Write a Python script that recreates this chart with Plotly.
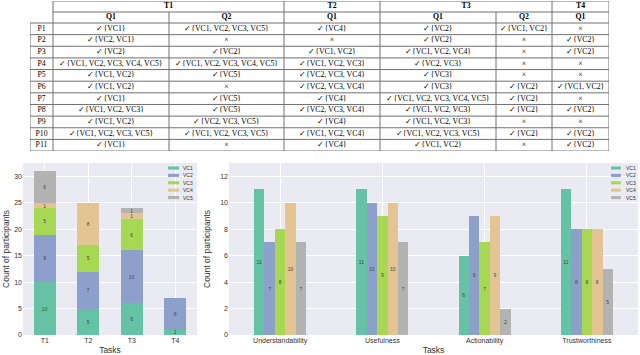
import plotly.graph_objects as go

# ---- table data ----
participants = ["P1", "P2", "P3", "P4", "P5", "P6", "P7", "P8", "P9", "P10", "P11"]
task_headers = ["T1", "T2", "T3", "T4"]
task_spans = [2, 1, 2, 1]
question_headers = ["Q1", "Q2", "Q1", "Q1", "Q2", "Q1"]

t1_q1 = ["✓{VC1}", "✓{VC2, VC1}", "✓{VC2}", "✓{VC1, VC2, VC3, VC4, VC5}", "✓{VC1, VC2}",
         "✓{VC1, VC2}", "✓{VC1}", "✓{VC1, VC2, VC3}", "✓{VC1, VC2}", "✓{VC1, VC2, VC3, VC5}", "✓{VC1}"]
t1_q2 = ["✓{VC1, VC2, VC3, VC5}", "×", "✓{VC2}", "✓{VC1, VC2, VC3, VC4, VC5}", "✓{VC5}",
         "×", "✓{VC5}", "✓{VC5}", "✓{VC2, VC3, VC5}", "✓{VC1, VC2, VC3, VC5}", "×"]
t2_q1 = ["✓{VC4}", "×", "✓{VC1, VC2}", "✓{VC1, VC2, VC3}", "✓{VC2, VC3, VC4}",
         "✓{VC2, VC3, VC4}", "✓{VC4}", "✓{VC2, VC3, VC4}", "✓{VC4}", "✓{VC1, VC2, VC4}", "✓{VC4}"]
t3_q1 = ["✓{VC2}", "✓{VC2}", "✓{VC1, VC2, VC4}", "✓{VC2, VC3}", "✓{VC3}",
         "✓{VC3}", "✓{VC1, VC2, VC3, VC4, VC5}", "✓{VC1, VC2, VC3}", "✓{VC1, VC2, VC3}",
         "✓{VC1, VC2, VC3, VC5}", "✓{VC1, VC2}"]
t3_q2 = ["✓{VC1, VC2}", "×", "×", "×", "×", "✓{VC2}", "✓{VC2}", "✓{VC2}", "×", "✓{VC2}", "×"]
t4_q1 = ["×", "✓{VC2}", "✓{VC2}", "×", "×", "✓{VC1, VC2}", "×", "✓{VC2}", "×", "✓{VC2}", "✓{VC2}"]

# ---- bar chart data ----
series = ["VC1", "VC2", "VC3", "VC4", "VC5"]
colors = ["#66c2a5", "#8da0cb", "#a6d854", "#e5c494", "#b3b3b3"]

tasks = ["T1", "T2", "T3", "T4"]
task_counts = {
    "VC1": [10, 5, 6, 1],
    "VC2": [9, 7, 10, 6],
    "VC3": [5, 5, 6, 0],
    "VC4": [1, 8, 1, 0],
    "VC5": [6, 0, 1, 0],
}

criteria = ["Understandability", "Usefulness", "Actionability", "Trustworthiness"]
criteria_counts = {
    "VC1": [11, 11, 6, 11],
    "VC2": [7, 10, 9, 8],
    "VC3": [8, 9, 7, 8],
    "VC4": [10, 10, 9, 8],
    "VC5": [7, 7, 2, 5],
}

W, H = 640, 355
def px_x(v):
    return v / W
def px_y(v):
    return 1 - v / H

fig = go.Figure()

serif = "Liberation Serif"
sans = "Liberation Sans"
line_col = "#707070"

# ---- table, drawn on its own axes (units = pixels) ----
col_w = [23, 116, 115, 96, 116, 56, 57]
row_h = [11, 11] + [11.64] * 11
col_edges = [0]
for w in col_w:
    col_edges.append(col_edges[-1] + w)
row_edges = [0]
for h in row_h:
    row_edges.append(row_edges[-1] + h)
table_w = col_edges[-1]
table_h = row_edges[-1]

def col_mid(i):
    return (col_edges[i] + col_edges[i + 1]) / 2
def row_mid(j):
    return (row_edges[j] + row_edges[j + 1]) / 2

tx, ty, tt = [], [], []
# merged task header row
c = 1
for name, span in zip(task_headers, task_spans):
    tx.append((col_edges[c] + col_edges[c + span]) / 2)
    ty.append(row_mid(0))
    tt.append("<b>%s</b>" % name)
    c += span
for i, q in enumerate(question_headers):
    tx.append(col_mid(i + 1))
    ty.append(row_mid(1))
    tt.append("<b>%s</b>" % q)
columns = [participants, t1_q1, t1_q2, t2_q1, t3_q1, t3_q2, t4_q1]
for i, col in enumerate(columns):
    for j, v in enumerate(col):
        tx.append(col_mid(i))
        ty.append(row_mid(j + 2))
        tt.append(v)

fig.add_trace(go.Scatter(
    x=tx, y=ty, text=tt, mode="text", hoverinfo="skip", showlegend=False,
    textfont=dict(family=serif, size=7.8, color="black"),
    xaxis="x3", yaxis="y3",
))

# white background for the table area
fig.add_shape(type="rect", xref="x3 domain", yref="y3 domain", x0=0, x1=1, y0=0, y1=1,
              fillcolor="white", line_width=0, layer="below")

def hline(y, x0, x1):
    fig.add_shape(type="line", xref="x3", yref="y3", x0=x0, x1=x1, y0=y, y1=y,
                  line=dict(color=line_col, width=1))
def vline(x, y0, y1):
    fig.add_shape(type="line", xref="x3", yref="y3", x0=x, x1=x, y0=y0, y1=y1,
                  line=dict(color=line_col, width=1))

hline(row_edges[0], col_edges[1], table_w)
hline(row_edges[1], col_edges[1], table_w)
for y in row_edges[2:]:
    hline(y, 0, table_w)
vline(0, row_edges[2], table_h)
# vertical separators: task boundaries span both header rows, question ones only the second
task_bounds = [1]
for span in task_spans:
    task_bounds.append(task_bounds[-1] + span)
for k in range(1, len(col_edges)):
    top = row_edges[0] if k in task_bounds else row_edges[1]
    vline(col_edges[k], top, table_h)

# ---- stacked bars by task ----
for name, col in zip(series, colors):
    vals = task_counts[name]
    fig.add_trace(go.Bar(
        x=tasks, y=vals, name=name, marker_color=col, marker_line_width=0,
        text=[str(v) if v > 0 else "" for v in vals],
        textposition="inside", insidetextanchor="middle", constraintext="none",
        textangle=0, textfont=dict(size=5, color="#444444"),
        showlegend=False, xaxis="x", yaxis="y",
    ))

# ---- grouped bars by criterion ----
for name, col in zip(series, colors):
    vals = criteria_counts[name]
    fig.add_trace(go.Bar(
        x=criteria, y=vals, name=name, marker_color=col, marker_line_width=0,
        offsetgroup=name,
        text=[str(v) for v in vals],
        textposition="inside", insidetextanchor="middle", constraintext="none",
        textangle=0, textfont=dict(size=5, color="#444444"),
        showlegend=False, xaxis="x2", yaxis="y2",
    ))

axis_common = dict(
    showline=False, zeroline=False, showgrid=True, gridcolor="white", gridwidth=1,
    ticks="", tickfont=dict(family=sans, size=7, color="#333333"), automargin=False,
)
title_font = dict(family=sans, size=8.5, color="#333333")
ydom = [px_y(335), px_y(163)]
hidden = dict(visible=False, showgrid=False, zeroline=False, fixedrange=True)

fig.update_layout(
    width=W, height=H, margin=dict(l=0, r=0, t=0, b=0),
    paper_bgcolor="white", plot_bgcolor="#EAEAF2",
    barmode="stack", bargap=0.49, bargroupgap=0,
    xaxis=dict(domain=[px_x(23), px_x(197)], anchor="y",
               title=dict(text="Tasks", font=title_font, standoff=6), **axis_common),
    yaxis=dict(domain=ydom, anchor="x", range=[0, 32.55], dtick=5,
               title=dict(text="Count of participants", font=title_font, standoff=3), **axis_common),
    xaxis2=dict(domain=[px_x(229), px_x(638)], anchor="y2",
                title=dict(text="Tasks", font=title_font, standoff=6), **axis_common),
    yaxis2=dict(domain=ydom, anchor="x2", range=[0, 13], dtick=2,
                title=dict(text="Count of participants", font=title_font, standoff=8), **axis_common),
    xaxis3=dict(domain=[px_x(30), px_x(30 + table_w)], anchor="y3", range=[0, table_w], **hidden),
    yaxis3=dict(domain=[px_y(1 + table_h), px_y(1)], anchor="x3", range=[table_h, 0], **hidden),
    font=dict(family=sans),
)

# compact legends drawn in each subplot (top right)
legend_spots = [("x", "y", 0.833, 0.897, 0.908), ("x2", "y2", 0.934, 0.958, 0.966)]
for xr, yr, x0, x1, xt in legend_spots:
    for i, (name, col) in enumerate(zip(series, colors)):
        yc = 0.971 - i * 0.043
        fig.add_shape(type="rect", xref=xr + " domain", yref=yr + " domain",
                      x0=x0, x1=x1, y0=yc - 0.009, y1=yc + 0.009,
                      fillcolor=col, line_width=0)
        fig.add_annotation(text=name, xref=xr + " domain", yref=yr + " domain",
                           x=xt, y=yc, xanchor="left", yanchor="middle", showarrow=False,
                           font=dict(family=sans, size=5, color="#333333"))

# the page body has a default margin; remove it so the figure sits at the window origin
fig.write_html("out.html", config={"displayModeBar": False},
               post_script="document.body.style.margin='0';")
